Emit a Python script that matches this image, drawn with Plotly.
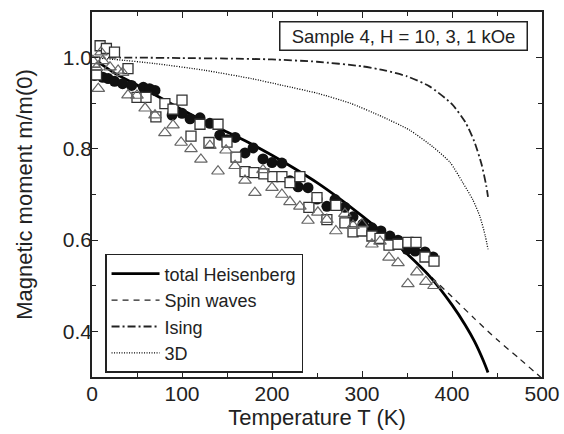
import plotly.graph_objects as go

# ---- theory curves ----
T_heis = [0, 25, 50, 75, 100, 125, 150, 175, 200, 225, 250, 275, 300, 325, 350, 375, 400, 415, 425, 435, 440]
m_heis = [1.0, 0.966, 0.940, 0.913, 0.886, 0.860, 0.837, 0.813, 0.786, 0.757, 0.726, 0.691, 0.653, 0.613, 0.570, 0.521, 0.458, 0.413, 0.378, 0.335, 0.310]

T_sw = [0, 25, 50, 75, 100, 125, 150, 175, 200, 225, 250, 275, 300, 325, 350, 375, 400, 425, 450, 475, 500]
m_sw = [1.0, 0.966, 0.940, 0.913, 0.886, 0.860, 0.837, 0.813, 0.786, 0.757, 0.726, 0.691, 0.653, 0.613, 0.570, 0.523, 0.476, 0.428, 0.382, 0.340, 0.297]

T_ising = [0, 50, 100, 150, 200, 250, 300, 325, 350, 375, 400, 415, 425, 433, 438, 440]
m_ising = [1.0, 1.0, 0.999, 0.998, 0.996, 0.991, 0.981, 0.972, 0.959, 0.937, 0.898, 0.858, 0.815, 0.765, 0.720, 0.695]

T_3d = [0, 25, 70, 126, 177, 212, 250, 287, 323, 353, 379, 398, 412, 423, 431, 437, 440]
m_3d = [1.0, 0.996, 0.987, 0.972, 0.954, 0.939, 0.922, 0.900, 0.870, 0.841, 0.804, 0.770, 0.726, 0.689, 0.652, 0.609, 0.580]

# ---- measured data ----
T_circ = [3, 12, 18, 25, 34, 44, 57, 64, 70, 89, 100, 109, 120, 131, 142, 150, 159, 170, 179, 190, 200, 211,
          220, 229, 240, 250, 261, 270, 281, 290, 301, 311, 321, 331, 340, 350, 359, 370, 379]
m_circ = [0.961, 0.957, 0.954, 0.948, 0.943, 0.939, 0.935, 0.932, 0.928, 0.874, 0.878, 0.866, 0.868, 0.856, 0.830,
          0.820, 0.825, 0.791, 0.802, 0.778, 0.770, 0.769, 0.730, 0.717, 0.715, 0.690, 0.674, 0.689, 0.672, 0.651,
          0.635, 0.627, 0.620, 0.609, 0.600, 0.580, 0.576, 0.574, 0.563]

T_sq = [3, 5, 9, 16, 25, 40, 50, 60, 71, 81, 90, 100, 110, 120, 130, 140, 150, 160, 170, 180, 191, 201, 211,
        220, 231, 241, 250, 261, 271, 281, 290, 300, 311, 320, 330, 340, 351, 360, 370, 380]
m_sq = [0.990, 0.962, 1.026, 1.020, 1.012, 0.976, 0.913, 0.913, 0.870, 0.899, 0.887, 0.907, 0.828, 0.854, 0.814,
        0.854, 0.815, 0.782, 0.750, 0.748, 0.745, 0.739, 0.739, 0.726, 0.739, 0.672, 0.693, 0.645, 0.676, 0.638,
        0.618, 0.620, 0.609, 0.604, 0.589, 0.591, 0.595, 0.595, 0.563, 0.554]

T_tri = [1, 5, 7, 10, 12, 20, 29, 34, 40, 50, 59, 70, 81, 90, 99, 110, 121, 131, 140, 149, 159, 170, 181, 190,
         200, 211, 220, 231, 240, 251, 261, 271, 281, 290, 300, 311, 320, 330, 340, 351, 361, 371, 380]
m_tri = [0.993, 0.978, 0.932, 1.012, 0.993, 0.979, 0.972, 0.967, 0.918, 0.917, 0.889, 0.874, 0.835, 0.852, 0.814,
         0.800, 0.777, 0.807, 0.751, 0.797, 0.763, 0.731, 0.704, 0.754, 0.715, 0.700, 0.684, 0.674, 0.643, 0.661,
         0.645, 0.620, 0.658, 0.632, 0.635, 0.591, 0.597, 0.562, 0.550, 0.504, 0.530, 0.509, 0.500]

x_ticks = [0, 100, 200, 300, 400, 500]
y_ticks = [0.4, 0.6, 0.8, 1.0]
y_tick_text = ["0.4", "0.6", "0.8", "1.0"]

FONT = "Arial, Liberation Sans, sans-serif"
INK = "#222"

fig = go.Figure()

fig.add_trace(go.Scatter(x=T_sw, y=m_sw, mode="lines", name="Spin waves", legendrank=2,
                         line=dict(color=INK, width=1.3, dash="6px,5px", shape="spline", smoothing=0.6)))
fig.add_trace(go.Scatter(x=T_ising, y=m_ising, mode="lines", name="Ising", legendrank=3,
                         line=dict(color=INK, width=1.8, dash="8px,3px,2px,3px", shape="spline", smoothing=0.6)))
fig.add_trace(go.Scatter(x=T_3d, y=m_3d, mode="lines", name="3D", legendrank=4,
                         line=dict(color="#000", width=1.3, dash="1px,1.5px", shape="spline", smoothing=0.6)))
fig.add_trace(go.Scatter(x=T_heis, y=m_heis, mode="lines", name="total Heisenberg", legendrank=1,
                         line=dict(color="#000", width=2.8, shape="spline", smoothing=0.6)))

fig.add_trace(go.Scatter(x=T_circ, y=m_circ, mode="markers", showlegend=False,
                         marker=dict(symbol="circle", size=11, color="#111", line=dict(width=0))))
fig.add_trace(go.Scatter(x=T_sq, y=m_sq, mode="markers", showlegend=False,
                         marker=dict(symbol="square", size=10, color="white", line=dict(width=1.3, color="#333"))))
fig.add_trace(go.Scatter(x=T_tri, y=m_tri, mode="markers", showlegend=False,
                         marker=dict(symbol="triangle-up-open", size=11, color="#666", line=dict(width=1.2, color="#666"))))

axis_common = dict(showline=True, linecolor=INK, linewidth=1.5, mirror="allticks",
                   ticks="inside", ticklen=6, tickwidth=1.3, tickcolor=INK,
                   showgrid=False, zeroline=False, automargin=False,
                   tickfont=dict(family=FONT, size=21, color=INK))

fig.update_xaxes(range=[0, 500], tickvals=x_ticks,
                 minor=dict(ticks="inside", ticklen=4, tickwidth=1.2, tickcolor=INK, dtick=50),
                 title=dict(text="Temperature T (K)", font=dict(family=FONT, size=22, color=INK), standoff=4),
                 ticklabelstandoff=-3,
                 **axis_common)
fig.update_yaxes(range=[0.3, 1.1], tickvals=y_ticks, ticktext=y_tick_text,
                 minor=dict(ticks="inside", ticklen=4, tickwidth=1.2, tickcolor=INK, dtick=0.1),
                 title=dict(text="Magnetic moment m/m(0)", font=dict(family=FONT, size=22, color=INK), standoff=24),
                 ticklabelstandoff=-6,
                 **axis_common)

fig.add_annotation(x=0.693, y=0.933, xref="paper", yref="paper", xanchor="center", yanchor="middle",
                   text="Sample 4, H = 10, 3, 1 kOe",
                   showarrow=False, font=dict(family=FONT, size=18.5, color=INK),
                   bordercolor=INK, borderwidth=1.5, borderpad=3, width=240, bgcolor="white")

fig.update_layout(
    width=564, height=434,
    margin=dict(l=92, r=22, t=12, b=57),
    plot_bgcolor="white", paper_bgcolor="white",
    legend=dict(x=0.029, y=0.337, xanchor="left", yanchor="top",
                bordercolor=INK, borderwidth=1.5, bgcolor="white",
                font=dict(family=FONT, size=18, color=INK), itemwidth=48, tracegroupgap=0),
)

fig.write_html("out.html")
